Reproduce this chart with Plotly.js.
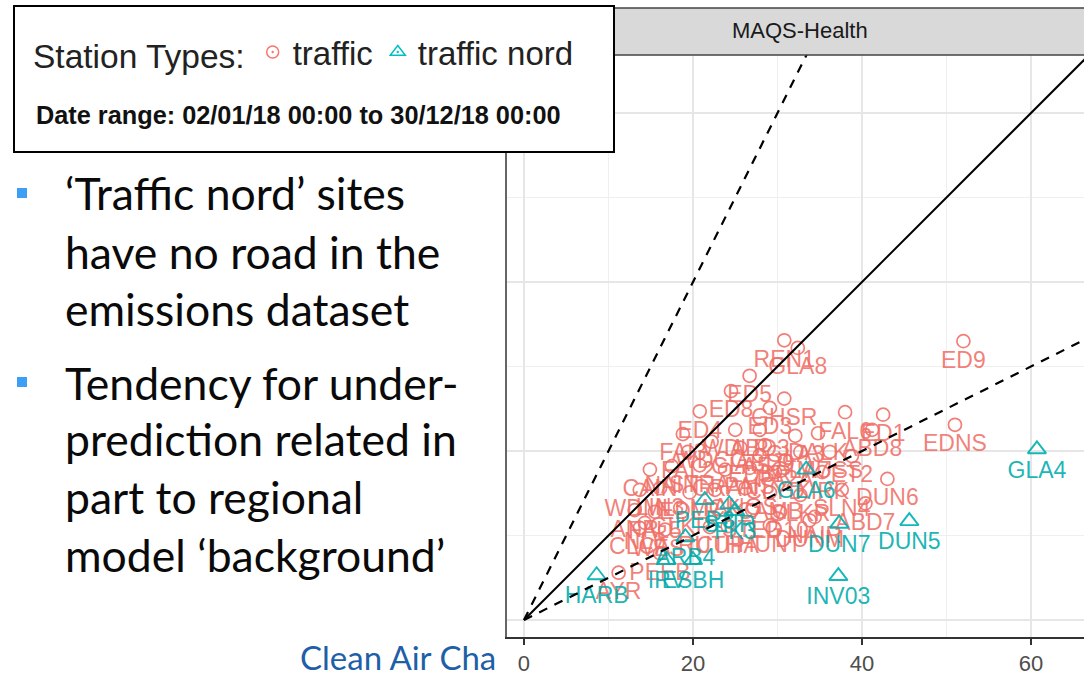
<!DOCTYPE html>
<html><head><meta charset="utf-8">
<script src="https://cdn.plot.ly/plotly-3.0.1.min.js"></script>
<style>html,body{margin:0;padding:0;background:#fff}#chart{width:1084px;height:676px}</style>
</head><body><div id="chart"></div>
<script>
// Station categories / names and values (x = observed, y = modelled)
const trafficSites = ["REN1","GLA8","ED9","EDNS","ED5","ED8","GHSR","ED3","FAL6","ED1","ABD8","ED4","FAI3","WDLP","ABD3","GLA3","DALK","WDCG","GLA5","ABD9","GLA7","MUSS","ET2","CAIN","NAIN","STRA","GRAN","PAIS","CLYD","KIRK","DUN6","WDML","LIN3","EDLR","MCK","ANGS","CAMB","SLKR","SLN4","ABD7","ANR","FAL5","GLKP","STLG","ED10","NAIR","CLCA","WEST","RUTH","CUPA","HUNT","DUNM","NL6","PEEB","AYR","FAL2","EDBR","PA2A"];
const trafficObs = [30.8,32.4,52.0,51.0,26.7,24.5,30.8,29.1,38.0,42.5,41.2,20.8,18.8,25.0,27.9,32.1,34.8,22.2,25.6,28.5,32.7,36.2,38.8,14.9,17.5,20.8,23.8,26.7,29.7,35.3,43.0,13.7,16.1,19.6,22.6,26.2,29.1,32.7,37.6,40.4,13.1,15.5,18.5,27.0,30.3,34.4,13.7,16.7,22.0,24.1,29.1,33.8,14.3,16.1,11.2,19.4,27.9,30.9];
const trafficMod = [33.1,32.2,33.0,23.1,28.9,27.1,26.2,25.1,24.6,24.3,22.5,24.7,22.0,22.5,22.5,21.8,22.1,21.1,20.4,20.7,19.9,19.9,19.4,17.8,18.2,18.3,17.8,18.0,17.5,17.5,16.7,15.4,15.6,15.1,15.4,15.6,15.1,14.8,15.4,13.8,13.0,12.8,13.3,13.0,12.8,12.2,10.9,10.7,11.0,11.1,11.2,11.8,11.5,7.9,5.6,19.9,19.5,18.9];

const nordSites = ["GLA4","DUN5","DUN7","INV03","GLA6","HARB","PER3","STIR","FK3","ARB4","IRV","ESBH"];
const nordObs = [60.7,45.6,37.3,37.2,33.4,8.6,21.4,24.3,25.0,19.1,16.9,20.0];
const nordMod = [20.2,11.7,11.4,5.2,17.8,5.3,14.2,13.7,12.9,9.8,7.1,7.1];

// reference lines 1:1, 2:1, 1:2
const oneX = [0, 70], oneY = [0, 70];
const twoX = [0, 35], twoY = [0, 70];
const halfX = [0, 70], halfY = [0, 35];

const xTicks = [0, 20, 40, 60];
const panelTitle = "MAQS-Health";
const legendTitle = "Station Types:";
const dateRange = "Date range: 02/01/18 00:00 to 30/12/18 00:00";
const bulletLines = [
  "\u2018Traffic nord\u2019 sites", "have no road in the", "emissions dataset",
  "Tendency for under-", "prediction related in", "part to regional", "model \u2018background\u2019"
];
const footerText = "Clean Air Cha";

const W = 1084, H = 676;
const fx = p => p / W;
const fy = p => 1 - p / H;

const PINK = '#F8766D', TEAL = '#00BFC4';

const traces = [
  {type:'scatter', mode:'markers+text', x:trafficObs, y:trafficMod, text:trafficSites,
   textposition:'bottom center', showlegend:false, hoverinfo:'skip',
   marker:{symbol:'circle-open', size:13, color:'rgba(240,112,104,0.9)', line:{width:1.7}},
   textfont:{family:'Liberation Sans, Arial, sans-serif', size:23, color:'rgba(240,112,104,0.88)'}},
  {type:'scatter', mode:'markers+text', x:nordObs, y:nordMod, text:nordSites,
   textposition:'bottom center', showlegend:false, hoverinfo:'skip',
   marker:{symbol:'triangle-up-open', size:16, color:'rgba(0,178,178,0.92)', line:{width:1.9}},
   textfont:{family:'Liberation Sans, Arial, sans-serif', size:23, color:'rgba(0,172,172,0.9)'}},
  {type:'scatter', mode:'lines', x:oneX, y:oneY, showlegend:false, hoverinfo:'skip',
   line:{color:'#000', width:2}},
  {type:'scatter', mode:'lines', x:twoX, y:twoY, showlegend:false, hoverinfo:'skip',
   line:{color:'#000', width:2.2, dash:'9px,8px'}},
  {type:'scatter', mode:'lines', x:halfX, y:halfY, showlegend:false, hoverinfo:'skip',
   line:{color:'#000', width:2.2, dash:'9px,8px'}},
  // legend keys
  {type:'scatter', mode:'markers', x:[null], y:[null], name:'traffic', hoverinfo:'skip',
   marker:{symbol:'circle-open-dot', size:12, color:PINK, line:{width:1.5}}},
  {type:'scatter', mode:'markers', x:[null], y:[null], name:'traffic nord', hoverinfo:'skip',
   marker:{symbol:'triangle-up-open-dot', size:13, color:TEAL, line:{width:1.5}}}
];

const bulletBaselines = [207, 266, 323, 397, 453, 511, 569];
const bulletSize = 44.5;
const annotations = bulletLines.map((t, i) => ({
  xref:'paper', yref:'paper', x:fx(63), y:fy(bulletBaselines[i] - bulletSize*0.32),
  xanchor:'left', yanchor:'middle', showarrow:false, text:t,
  font:{family:'Lato, "Open Sans", sans-serif', size:bulletSize, color:'#0a0a0a'}
}));
annotations.push({xref:'paper', yref:'paper', x:fx(800), y:fy(31), xanchor:'center', yanchor:'middle',
  showarrow:false, text:panelTitle, font:{family:'Liberation Sans, Arial, sans-serif', size:22, color:'#1a1a1a'}});
annotations.push({xref:'paper', yref:'paper', x:fx(298), y:fy(115), xanchor:'center', yanchor:'middle',
  showarrow:false, text:'<b>' + dateRange + '</b>', font:{family:'Liberation Sans, Arial, sans-serif', size:25.3, color:'#111'}});
annotations.push({xref:'paper', yref:'paper', x:fx(298), y:fy(657), xanchor:'left', yanchor:'middle',
  showarrow:false, text:footerText, font:{family:'Lato, "Open Sans", sans-serif', size:33, color:'#1f5fa8'}});

const shapes = [
  {type:'rect', xref:'paper', yref:'paper', x0:fx(507), x1:1.01, y0:fy(55), y1:fy(8),
   fillcolor:'#d9d9d9', line:{color:'#444', width:1.5}, layer:'above'},
  {type:'rect', xref:'paper', yref:'paper', x0:fx(14), x1:fx(614), y0:fy(152), y1:fy(6),
   fillcolor:'#ffffff', line:{color:'#000', width:2}, layer:'above'},
  {type:'rect', xref:'paper', yref:'paper', x0:fx(17), x1:fx(27), y0:fy(198), y1:fy(188),
   fillcolor:'#3d9ef5', line:{width:0}},
  {type:'rect', xref:'paper', yref:'paper', x0:fx(17), x1:fx(27), y0:fy(387), y1:fy(377),
   fillcolor:'#3d9ef5', line:{width:0}}
];

const layout = {
  width:W, height:H, margin:{l:0, r:0, t:0, b:0},
  paper_bgcolor:'#fff', plot_bgcolor:'#fff',
  font:{family:'Liberation Sans, Arial, sans-serif'},
  xaxis:{domain:[fx(507), 1], range:[-2.01, 66.27], tickvals:xTicks, ticktext:xTicks.map(String),
    ticks:'outside', ticklen:6, tickwidth:2, tickcolor:'#333',
    tickfont:{size:22, color:'#4d4d4d'}, showline:true, linecolor:'#333', linewidth:2,
    showgrid:true, gridcolor:'#e6e6e6', gridwidth:2, zeroline:false,
    minor:{tickvals:[10,30,50], showgrid:true, gridcolor:'#efefef', gridwidth:1.5, ticks:''}, fixedrange:true},
  yaxis:{domain:[fy(637), fy(55)], range:[-2.01, 66.86], tickvals:[0,20,40,60], showticklabels:false, ticks:'',
    showline:true, linecolor:'#666', linewidth:2, showgrid:true, gridcolor:'#e6e6e6', gridwidth:2, zeroline:false,
    minor:{tickvals:[10,30,50], showgrid:true, gridcolor:'#efefef', gridwidth:1.5, ticks:''}, fixedrange:true},
  showlegend:true,
  legend:{orientation:'h', x:fx(31), y:fy(24), xanchor:'left', yanchor:'top', bgcolor:'rgba(0,0,0,0)',
    font:{size:33, color:'#222', family:'Liberation Sans, Arial, sans-serif'}, itemsizing:'trace',
    title:{text:legendTitle, side:'left', font:{size:33.5, color:'#222', family:'Liberation Sans, Arial, sans-serif'}}},
  shapes:shapes, annotations:annotations
};

Plotly.newPlot('chart', traces, layout, {staticPlot:true, displayModeBar:false});
</script></body></html>
